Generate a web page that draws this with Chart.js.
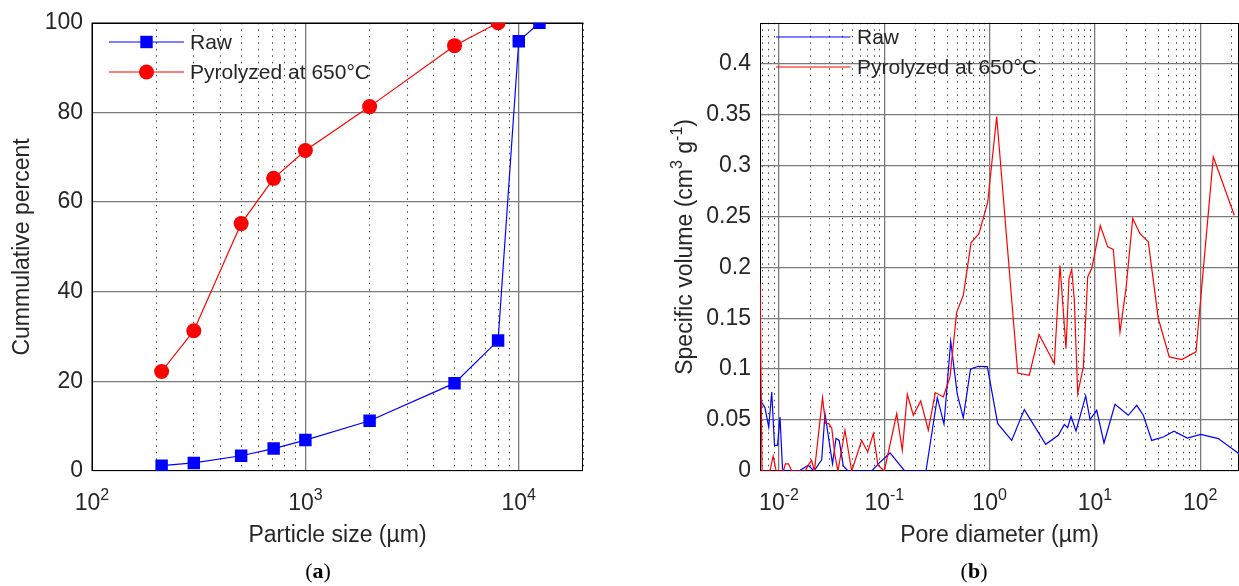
<!DOCTYPE html>
<html>
<head>
<meta charset="utf-8">
<title>Particle size and pore size distribution</title>
<script src="https://cdn.jsdelivr.net/npm/chart.js@4.4.1/dist/chart.umd.min.js"></script>
<style>
  html, body { margin: 0; padding: 0; background: #fff; }
  #fig { position: relative; width: 1239px; height: 586px; overflow: hidden; background: #fff; }
  .panel { position: absolute; top: 0; }
  .caption { position: absolute; width: 100px; text-align: center; color: #000;
             font: 22px 'Liberation Serif', 'Times New Roman', serif; line-height: 22px; }
</style>
</head>
<body>
<div id="fig">
  <canvas id="chartA" class="panel" width="600" height="586" style="left:0"></canvas>
  <canvas id="chartB" class="panel" width="600" height="586" style="left:640px"></canvas>
  <div class="caption" style="left:268px;top:560px">(<b>a</b>)</div>
  <div class="caption" style="left:924px;top:560px">(<b>b</b>)</div>
</div>
<script>
// (a) cumulative sieve analysis, sizes in µm
var sieveRaw = [212, 300, 500, 710, 1000, 2000, 5000, 8000, 10000, 12500];
var cumRaw = [1.2, 1.8, 3.4, 5.0, 6.9, 11.2, 19.6, 29.1, 95.9, 100];
var sievePyro = [212, 300, 500, 710, 1000, 2000, 5000, 8000];
var cumPyro = [22.2, 31.3, 55.2, 65.3, 71.5, 81.3, 94.9, 100];
var yTicksA = [0, 20, 40, 60, 80, 100];
var xExpA = [2, 3, 4];

// (b) pore size distribution, diameters in µm, volume in cm3/g
var poreRaw = [0.0066, 0.00736, 0.00799, 0.00853, 0.00906, 0.00968, 0.01022, 0.0108, 0.0114, 0.01548,
  0.01898, 0.0215, 0.02543, 0.02734, 0.03004, 0.03222, 0.03478, 0.03729, 0.04079, 0.04521,
  0.0759, 0.0877, 0.1133, 0.1562, 0.2489, 0.3186, 0.369, 0.4272, 0.4935, 0.5627,
  0.6587, 0.7814, 0.9511, 1.194, 1.621, 2.136, 3.411, 4.491, 5.122, 5.516,
  5.929, 6.615, 8.178, 8.983, 10.4, 12.2, 15.52, 20.76, 24.95, 28.82,
  34.63, 44.62, 56.39, 75.43, 101.1, 148.5, 233.6];
var volRaw = [0.070, 0.062, 0.043, 0.0776, 0.0252, 0.0252, 0.053, 0.002, 0, 0,
  0.0056, 0, 0.011, 0.056, 0.028, 0.007, 0.032, 0.030, 0.005, 0,
  0, 0.007, 0.0177, 0, 0, 0.072, 0.046, 0.1274, 0.0753, 0.0524,
  0.100, 0.1028, 0.1025, 0.0465, 0.030, 0.0603, 0.0262, 0.035, 0.0456, 0.0426,
  0.0537, 0.0393, 0.0737, 0.0505, 0.0596, 0.0275, 0.0655, 0.0547, 0.0645, 0.0547,
  0.030, 0.0334, 0.039, 0.0324, 0.036, 0.0318, 0.017];
var porePyro = [0.0066, 0.0069, 0.0082, 0.0088, 0.0094, 0.011, 0.0115, 0.0123, 0.0132, 0.0177,
  0.019, 0.0204, 0.0217, 0.0259, 0.0276, 0.0297, 0.0317, 0.034, 0.0363, 0.0423,
  0.049, 0.061, 0.0696, 0.0786, 0.0871, 0.1, 0.1312, 0.1482, 0.1654, 0.1886,
  0.2216, 0.2618, 0.3049, 0.3634, 0.4206, 0.4871, 0.5627, 0.666, 0.7933, 0.9594,
  1.168, 1.849, 2.382, 2.945, 4.116, 4.663, 5.316, 5.675, 6.022, 6.374,
  6.866, 7.762, 8.544, 9.324, 11.25, 13.23, 14.96, 17.31, 19.74, 22.86,
  26.82, 32.14, 40.0, 50.88, 66.73, 91.23, 133.2, 210.7];
var volPyro = [0.184, 0, 0, 0.0145, 0, 0, 0.007, 0.007, 0, 0,
  0.006, 0.0105, 0, 0.072, 0.047, 0.0465, 0.042, 0.015, 0, 0.040,
  0, 0.030, 0.0187, 0.0367, 0.0056, 0, 0.0564, 0.0203, 0.0753, 0.0547,
  0.0688, 0.040, 0.077, 0.0727, 0.0923, 0.156, 0.1725, 0.224, 0.233, 0.264,
  0.348, 0.0962, 0.094, 0.134, 0.1055, 0.202, 0.120, 0.189, 0.198, 0.168,
  0.076, 0.102, 0.1905, 0.1988, 0.241, 0.220, 0.2175, 0.1365, 0.179, 0.248,
  0.233, 0.225, 0.1497, 0.112, 0.1094, 0.117, 0.3084, 0.251];
var yTicksB = [0, 0.05, 0.1, 0.15, 0.2, 0.25, 0.3, 0.35, 0.4];
var xExpB = [-2, -1, 0, 1, 2];

var FONT = "'Liberation Sans', Arial, sans-serif";
var TEXT = '#262626';
var MAJOR = '#7a7a7a';
var MINOR = 'rgba(0,0,0,0.75)';
var BLUE = '#0000ff';
var RED = '#ff0000';

function points(xs, ys) {
  return xs.map(function (x, i) { return { x: x, y: ys[i] }; });
}

// 1..9 x 10^n grid positions inside [min, max]
function logGrid(min, max) {
  var vals = [];
  for (var e = Math.floor(Math.log10(min)); e <= Math.ceil(Math.log10(max)); e++) {
    for (var m = 1; m <= 9; m++) {
      var v = parseFloat((m * Math.pow(10, e)).toPrecision(6));
      if (v >= min && v <= max) vals.push({ value: v, major: m === 1 });
    }
  }
  return vals;
}

function isMinor(c) { return c.tick && !c.tick.major; }

// black box round the plot area
var frame = {
  id: 'frame',
  beforeDatasetsDraw: function (chart) {
    var a = chart.chartArea, c = chart.ctx;
    var l = Math.round(a.left) + 0.5, t = Math.round(a.top) + 0.5;
    var r = Math.round(a.right) - 0.5, b = Math.round(a.bottom) - 0.5;
    c.save();
    c.strokeStyle = '#000';
    c.lineWidth = 1;
    c.strokeRect(l, t, r - l, b - t);
    c.restore();
  }
};

// decade labels 10^n under the x axis
var powerTicks = {
  id: 'powerTicks',
  afterDraw: function (chart, args, opts) {
    var sx = chart.scales.x, c = chart.ctx;
    c.save();
    c.fillStyle = TEXT;
    c.textAlign = 'left';
    c.textBaseline = 'alphabetic';
    opts.exps.forEach(function (e) {
      var px = sx.getPixelForValue(Math.pow(10, e));
      var sup = String(e);
      c.font = '23px ' + FONT;
      var wb = c.measureText('10').width;
      c.font = '16px ' + FONT;
      var ws = c.measureText(sup).width;
      var x0 = px - (wb + ws) / 2;
      c.font = '23px ' + FONT;
      c.fillText('10', x0, 510);
      c.font = '16px ' + FONT;
      c.fillText(sup, x0 + wb, 500);
    });
    c.restore();
  }
};

// vertical axis title with superscript parts, centred on the plot height
var unitTitle = {
  id: 'unitTitle',
  afterDraw: function (chart, args, opts) {
    if (!opts.texts) return;
    var c = chart.ctx, a = chart.chartArea;
    var widths = [], total = 0;
    c.save();
    opts.texts.forEach(function (t, i) {
      c.font = (opts.sups[i] ? 16 : 23) + 'px ' + FONT;
      widths[i] = c.measureText(t).width;
      total += widths[i];
    });
    c.translate(opts.x, (a.top + a.bottom) / 2);
    c.rotate(-Math.PI / 2);
    c.fillStyle = TEXT;
    c.textAlign = 'left';
    c.textBaseline = 'alphabetic';
    var x = -total / 2;
    opts.texts.forEach(function (t, i) {
      c.font = (opts.sups[i] ? 16 : 23) + 'px ' + FONT;
      c.fillText(t, x, opts.sups[i] ? -10 : 0);
      x += widths[i];
    });
    c.restore();
  }
};

// legend inside the plot: short line with the marker in its middle
var lineLegend = {
  id: 'lineLegend',
  afterDatasetsDraw: function (chart, args, opts) {
    var c = chart.ctx;
    opts.labels.forEach(function (label, i) {
      var y = opts.y + i * opts.step;
      var mx = opts.x + opts.len / 2;
      var col = opts.colors[i];
      c.save();
      c.setLineDash([]);
      c.strokeStyle = col;
      c.lineWidth = 1.2;
      c.beginPath();
      c.moveTo(opts.x, y);
      c.lineTo(opts.x + opts.len, y);
      c.stroke();
      c.fillStyle = col;
      if (opts.markers[i] === 'rect') {
        c.fillRect(mx - 6.2, y - 6.2, 12.4, 12.4);
      } else if (opts.markers[i] === 'circle') {
        c.beginPath();
        c.arc(mx, y, 7.5, 0, 2 * Math.PI);
        c.fill();
      }
      c.fillStyle = TEXT;
      c.font = opts.size + 'px ' + FONT;
      c.textBaseline = 'middle';
      c.fillText(label, opts.x + opts.len + opts.gap, y + 1);
      c.restore();
    });
  }
};

function xAxis(min, max, title) {
  return {
    type: 'logarithmic',
    min: min,
    max: max,
    afterBuildTicks: function (s) { s.ticks = logGrid(min, max); },
    afterFit: function (s) { s.height = 115; },
    ticks: { display: false },
    grid: {
      drawTicks: false,
      color: function (c) { return isMinor(c) ? MINOR : MAJOR; },
      lineWidth: function (c) { return isMinor(c) ? 1 : 1.3; }
    },
    border: {
      display: false,
      dash: function (c) { return isMinor(c) ? [1.5, 5] : []; }
    },
    title: {
      display: true, text: title, color: TEXT,
      font: { family: FONT, size: 23 },
      padding: { top: 0, bottom: 37 }
    }
  };
}

function yAxis(min, max, ticks, width, title, titlePad) {
  return {
    type: 'linear',
    min: min,
    max: max,
    afterBuildTicks: function (s) { s.ticks = ticks.map(function (v) { return { value: v }; }); },
    afterFit: function (s) { s.width = width; },
    ticks: {
      color: TEXT, padding: 9,
      font: { family: FONT, size: 23 },
      callback: function (v) { return String(v); }
    },
    grid: { drawTicks: false, color: MAJOR, lineWidth: 1.3 },
    border: { display: false },
    title: {
      display: !!title, text: title, color: TEXT,
      font: { family: FONT, size: 23 },
      padding: { top: titlePad, bottom: 0 }
    }
  };
}

var legendLabels = ['Raw', 'Pyrolyzed at 650°C'];

new Chart(document.getElementById('chartA'), {
  type: 'line',
  data: {
    datasets: [{
      label: legendLabels[0],
      data: points(sieveRaw, cumRaw),
      borderColor: BLUE,
      backgroundColor: BLUE,
      borderWidth: 1.2,
      pointStyle: 'rect',
      pointRadius: 8.8,
      pointBorderWidth: 0,
      tension: 0
    }, {
      label: legendLabels[1],
      data: points(sievePyro, cumPyro),
      borderColor: RED,
      backgroundColor: RED,
      borderWidth: 1.2,
      pointStyle: 'circle',
      pointRadius: 7.5,
      pointBorderWidth: 0,
      tension: 0
    }]
  },
  options: {
    responsive: false,
    animation: false,
    devicePixelRatio: 1,
    layout: { padding: { left: 0, right: 17, top: 22, bottom: 0 } },
    plugins: {
      legend: { display: false },
      tooltip: { enabled: false },
      powerTicks: { exps: xExpA },
      lineLegend: { labels: legendLabels, colors: [BLUE, RED], markers: ['rect', 'circle'],
                    x: 109, y: 42, step: 30, len: 75, gap: 6, size: 21 }
    },
    scales: {
      x: xAxis(100, 20000, 'Particle size (µm)'),
      y: yAxis(0, 100, yTicksA, 92, 'Cummulative percent', 9)
    }
  },
  plugins: [frame, powerTicks, lineLegend]
});

new Chart(document.getElementById('chartB'), {
  type: 'line',
  data: {
    datasets: [{
      label: legendLabels[0],
      data: points(poreRaw, volRaw),
      borderColor: BLUE,
      backgroundColor: BLUE,
      borderWidth: 1.2,
      pointRadius: 0,
      tension: 0,
      order: 1
    }, {
      label: legendLabels[1],
      data: points(porePyro, volPyro),
      borderColor: RED,
      backgroundColor: RED,
      borderWidth: 1.2,
      pointRadius: 0,
      tension: 0,
      order: 0
    }]
  },
  options: {
    responsive: false,
    animation: false,
    devicePixelRatio: 1,
    layout: { padding: { left: 0, right: 1, top: 22, bottom: 0 } },
    plugins: {
      legend: { display: false },
      tooltip: { enabled: false },
      powerTicks: { exps: xExpB },
      lineLegend: { labels: legendLabels, colors: [BLUE, RED], markers: ['', ''],
                    x: 136, y: 37, step: 30, len: 74.5, gap: 6.5, size: 21 },
      unitTitle: {
        x: 52,
        texts: ['Specific volume (cm', '3', ' g', '-1', ')'],
        sups: [false, true, false, true, false]
      }
    },
    scales: {
      x: xAxis(0.0066, 233.6, 'Pore diameter (µm)'),
      y: yAxis(0, 0.44, yTicksB, 120, '', 0)
    }
  },
  plugins: [frame, powerTicks, lineLegend, unitTitle]
});
</script>
</body>
</html>
